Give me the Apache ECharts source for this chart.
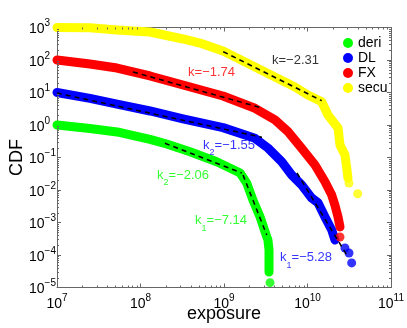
<!DOCTYPE html>
<html>
<head>
<meta charset="utf-8">
<script src="https://cdn.jsdelivr.net/npm/echarts@6/dist/echarts.min.js"></script>
<style>
html, body { margin: 0; padding: 0; background: #fff; }
#chart { width: 407px; height: 328px; }
</style>
</head>
<body>
<div id="chart"></div>
<script>
// 四组 CDF 曲线，[exposure, CDF]
const deriBand = [[1e7, 1.0], [2.48e7, 0.78], [5.24e7, 0.61], [1.3e8, 0.36], [2.06e8, 0.26], [3.92e8, 0.151],
  [8.18e8, 0.0743], [1.56e9, 0.0334], [1.87e9, 0.0164], [2.22e9, 0.0049], [2.7e9, 0.0015],
  [3.25e9, 3.66e-4], [3.36e9, 2.9e-4], [3.46e9, 1.43e-4], [3.46e9, 7.0e-5], [3.46e9, 3.0e-5]]
const deriDots = [[3.56e9, 1.41e-5]]

const dlBand = [[1e7, 10], [2.48e7, 6.6], [5.24e7, 4.4], [1.3e8, 2.7], [3.23e8, 1.55], [9.73e8, 0.83],
  [2.35e9, 0.39], [3.36e9, 0.196], [4.91e9, 0.0743], [6.47e9, 0.029], [8.53e9, 0.0143], [1.12e10, 0.0057],
  [1.34e10, 0.004], [1.62e10, 0.00148], [1.95e10, 5.9e-4], [2.13e10, 2.9e-4]]
const dlDots = [[2.81e10, 1.64e-4], [3.14e10, 1.15e-4], [3.38e10, 5.7e-5]]

const fxBand = [[1e7, 100], [2.48e7, 75], [5.24e7, 56.7], [1.3e8, 32.2], [3.23e8, 17], [9.73e8, 7.8],
  [2.35e9, 3.27], [4.08e9, 1.43], [5.84e9, 0.622], [8.53e9, 0.192], [1.23e10, 0.0588], [1.62e10, 0.018],
  [1.95e10, 0.007], [2.13e10, 0.00345], [2.32e10, 0.00148], [2.45e10, 7.3e-4]]
const fxDots = [[2.45e10, 3.58e-4]]

const secuBand = [[1e7, 1000], [2.48e7, 980], [5.24e7, 838], [1.3e8, 727], [3.23e8, 443], [5.16e8, 333],
  [9.73e8, 189], [2.05e9, 72.8], [3.55e9, 35.8], [7.08e9, 14.8], [1.01e10, 8.4], [1.48e10, 5.2],
  [1.76e10, 2.03], [2.32e10, 0.81], [2.45e10, 0.243], [2.81e10, 0.119], [2.95e10, 0.0475], [3.05e10, 0.0234]]
const secuDots = [[3.14e10, 0.0164], [3.99e10, 0.00769]]

// 拟合虚线
const fitSecu = [[9.8e8, 180], [1.48e10, 5.6]]
const fitFx = [[8.13e7, 42.8], [2.85e9, 3.33]]
const fitDl2 = [[1e7, 9.6], [2.85e9, 0.419]]
const fitDl1 = [[7.48e9, 0.0334], [3.05e10, 8.7e-5]]
const fitDeri2 = [[1.96e8, 0.274], [1.63e9, 0.0334]]
const fitDeri1 = [[1.69e9, 0.029], [3.25e9, 4.12e-4]]

// 标注 [x, y, 文本, 颜色]
const notes = [
  [3.76e9, 100, "{m|k=−2.31}", "#000000"],
  [3.71e8, 42.8, "{m|k=−1.74}", "#ff0000"],
  [5.61e8, 0.196, "{m|k}{s|2}{m|=−1.55}", "#0000ff"],
  [1.58e8, 0.0235, "{m|k}{s|2}{m|=−2.06}", "#00ff00"],
  [4.5e8, 9.6e-4, "{m|k}{s|1}{m|=−7.14}", "#00ff00"],
  [4.69e9, 7.0e-5, "{m|k}{s|1}{m|=−5.28}", "#0000ff"],
]

// 对数轴次刻度
const decadesX = [1e7, 1e8, 1e9, 1e10]
const decadesY = [1e-5, 1e-4, 1e-3, 1e-2, 1e-1, 1, 10, 100]
const minorSteps = [2, 3, 4, 5, 6, 7, 8, 9]

const names = ["deri", "DL", "FX", "secu"]
const colors = ["#00ff00", "#0000ff", "#ff0000", "#ffff00"]
const bands = [deriBand, dlBand, fxBand, secuBand]
const dots = [deriDots, dlDots, fxDots, secuDots]
const fits = [fitSecu, fitFx, fitDl2, fitDl1, fitDeri2, fitDeri1]

const FONT = "Liberation Sans"
const AXIS_COLOR = "#666666"

function powLabel(v) {
  const e = Math.round(Math.log10(v))
  return "{b|10}{e|" + String(e).replace("-", "−") + "}"
}
const tickRich = {
  b: { fontSize: 14, lineHeight: 18, verticalAlign: "bottom", color: "#000", fontFamily: FONT },
  e: { fontSize: 10, lineHeight: 10, verticalAlign: "top", color: "#000", fontFamily: FONT },
}

function logAxis(extra) {
  return Object.assign({
    type: "log",
    logBase: 10,
    interval: 1,
    nameMoveOverlap: false,
    axisLine: { show: true, onZero: false, lineStyle: { color: AXIS_COLOR, width: 1 } },
    axisTick: { show: true, inside: true, length: 4, lineStyle: { color: AXIS_COLOR } },
    minorTick: { show: false },
    splitLine: { show: false },
    minorSplitLine: { show: false },
  }, extra)
}

const series = []
names.forEach((name, i) => {
  series.push({
    name: name,
    type: "line",
    data: bands[i],
    showSymbol: false,
    symbol: "circle",
    color: colors[i],
    clip: false,
    lineStyle: { width: 9, cap: "round", join: "round", color: colors[i] },
    silent: true,
    z: 2,
  })
  series.push({
    name: name,
    type: "scatter",
    data: dots[i],
    symbol: "circle",
    symbolSize: 9,
    color: colors[i],
    clip: false,
    silent: true,
    z: 2,
  })
})
fits.forEach(f => {
  series.push({
    type: "line",
    data: f,
    showSymbol: false,
    lineStyle: { color: "#000", width: 1.5, type: [5, 4] },
    silent: true,
    z: 5,
  })
})
series.push({
  type: "scatter",
  symbolSize: 0,
  silent: true,
  z: 6,
  data: notes.map(n => ({
    value: [n[0], n[1]],
    label: {
      show: true,
      position: "right",
      distance: 0,
      formatter: n[2],
      color: n[3],
      fontFamily: FONT,
      rich: {
        m: { fontSize: 13, lineHeight: 13, verticalAlign: "top", color: n[3], fontFamily: FONT },
        s: { fontSize: 9, lineHeight: 19, verticalAlign: "bottom", color: n[3], fontFamily: FONT },
      },
    },
  })),
})

// 次刻度：用坐标轴换算位置，画在四条边框内侧
const minorX = []
decadesX.forEach(d => minorSteps.forEach(m => minorX.push([d * m, 1])))
const minorY = []
decadesY.forEach(d => minorSteps.forEach(m => minorY.push([1e9, d * m])))
const tickStyle = { stroke: AXIS_COLOR, lineWidth: 1 }
series.push({
  type: "custom",
  silent: true,
  z: 10,
  data: minorX,
  renderItem: (params, api) => {
    const cs = params.coordSys
    const x = Math.round(api.coord([api.value(0), api.value(1)])[0]) + 0.5
    return {
      type: "group",
      children: [
        { type: "line", shape: { x1: x, y1: cs.y + cs.height, x2: x, y2: cs.y + cs.height - 2 }, style: tickStyle },
        { type: "line", shape: { x1: x, y1: cs.y, x2: x, y2: cs.y + 2 }, style: tickStyle },
      ],
    }
  },
})
series.push({
  type: "custom",
  silent: true,
  z: 10,
  data: minorY,
  renderItem: (params, api) => {
    const cs = params.coordSys
    const y = Math.round(api.coord([api.value(0), api.value(1)])[1]) + 0.5
    return {
      type: "group",
      children: [
        { type: "line", shape: { x1: cs.x, y1: y, x2: cs.x + 2, y2: y }, style: tickStyle },
        { type: "line", shape: { x1: cs.x + cs.width, y1: y, x2: cs.x + cs.width - 2, y2: y }, style: tickStyle },
      ],
    }
  },
})

const chart = echarts.init(document.getElementById("chart"), null, { renderer: "canvas" })
chart.setOption({
  animation: false,
  backgroundColor: "#fff",
  textStyle: { fontFamily: FONT },
  grid: { left: 57, right: 16, top: 27.5, bottom: 40.5, outerBoundsMode: "none", containLabel: false },
  legend: {
    data: names,
    orient: "vertical",
    left: 338,
    top: 31,
    icon: "circle",
    itemWidth: 10,
    itemHeight: 10,
    itemGap: 1,
    textStyle: { fontSize: 14, color: "#000", fontFamily: FONT },
  },
  xAxis: [
    logAxis({
      min: 1e7, max: 1e11, position: "bottom",
      name: "exposure", nameLocation: "middle", nameGap: 18,
      nameTextStyle: { fontSize: 18, color: "#000", fontFamily: FONT, verticalAlign: "top" },
      axisLabel: { formatter: powLabel, rich: tickRich, margin: 6 },
    }),
    logAxis({ min: 1e7, max: 1e11, position: "top", axisLabel: { show: false } }),
  ],
  yAxis: [
    logAxis({
      min: 1e-5, max: 1e3, position: "left",
      name: "CDF", nameLocation: "middle", nameGap: 31,
      nameTextStyle: { fontSize: 18, color: "#000", fontFamily: FONT, verticalAlign: "bottom" },
      axisLabel: { formatter: powLabel, rich: tickRich, margin: 28, align: "left" },
    }),
    logAxis({ min: 1e-5, max: 1e3, position: "right", axisLabel: { show: false } }),
  ],
  series: series,
})
</script>
</body>
</html>
